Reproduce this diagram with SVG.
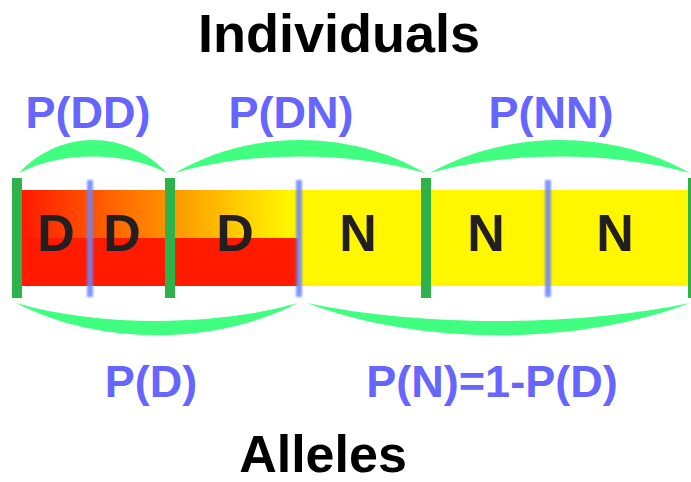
<svg xmlns="http://www.w3.org/2000/svg" width="691" height="482" viewBox="0 0 691 482">
<style>
.title{font-family:"Liberation Sans",Arial,sans-serif;font-weight:bold;fill:#000;text-anchor:middle}
.prob{font-family:"Liberation Sans",Arial,sans-serif;font-weight:bold;fill:#6666ff;text-anchor:middle;font-size:45px}
.allele{font-family:"Liberation Sans",Arial,sans-serif;font-weight:bold;fill:#231f20;text-anchor:middle;font-size:52px}
.arc{fill:#40ff80}
.sep{fill:#2db34a}
.blue{fill:#6b85ff;opacity:0.85}
</style>
<defs>
<linearGradient id="topgrad" gradientUnits="userSpaceOnUse" x1="22" y1="0" x2="290" y2="0">
<stop offset="0" stop-color="#ff1a00"/>
<stop offset="0.5" stop-color="#ff8800"/>
<stop offset="1" stop-color="#fff700"/>
</linearGradient>
<filter id="blur" x="-200%" y="-10%" width="500%" height="120%">
<feGaussianBlur stdDeviation="1.3"/>
</filter>
</defs>
<text class="title" x="339" y="52" font-size="54">Individuals</text>
<text class="title" x="323" y="472" font-size="52">Alleles</text>
<g id="bar">
<rect x="22" y="190" width="669" height="96" fill="#fff700"/>
<rect x="22" y="190" width="268" height="48" fill="url(#topgrad)"/>
<rect x="22" y="238" width="276" height="48" fill="#ff1a00"/>
</g>
<g id="separators">
<rect class="blue" x="87" y="180" width="6" height="117" filter="url(#blur)"/>
<rect class="blue" x="296" y="180" width="6" height="117" filter="url(#blur)"/>
<rect class="blue" x="545" y="180" width="6" height="117" filter="url(#blur)"/>
<rect class="sep" x="12" y="178" width="10" height="120"/>
<rect class="sep" x="165" y="178" width="10" height="120"/>
<rect class="sep" x="421" y="178" width="10" height="120"/>
<rect class="sep" x="688" y="178" width="10" height="120"/>
</g>
<g id="alleles">
<text class="allele" x="56" y="251">D</text>
<text class="allele" x="122" y="251">D</text>
<text class="allele" x="235" y="251">D</text>
<text class="allele" x="358" y="251">N</text>
<text class="allele" x="486" y="251">N</text>
<text class="allele" x="615" y="251">N</text>
</g>
<g id="connectors">
<path class="arc" d="M19,173 C60,129 126,129 167,173 C126,151 60,151 19,173 Z"/>
<path class="arc" d="M175,173 C250,129 350,129 425,173 C350,151 250,151 175,173 Z"/>
<path class="arc" d="M430,173 C508,129 612,129 690,173 C612,151 508,151 430,173 Z"/>
<path class="arc" d="M16,303 C100,346 214,346 298,303 C214,327 100,327 16,303 Z"/>
<path class="arc" d="M307,303 C420,346 577,346 690,303 C577,327 420,327 307,303 Z"/>
</g>
<g id="labels">
<text class="prob" x="88" y="128">P(DD)</text>
<text class="prob" x="291" y="128">P(DN)</text>
<text class="prob" x="551" y="128">P(NN)</text>
<text class="prob" x="151" y="397">P(D)</text>
<text class="prob" x="492" y="397">P(N)=1-P(D)</text>
</g>
</svg>
